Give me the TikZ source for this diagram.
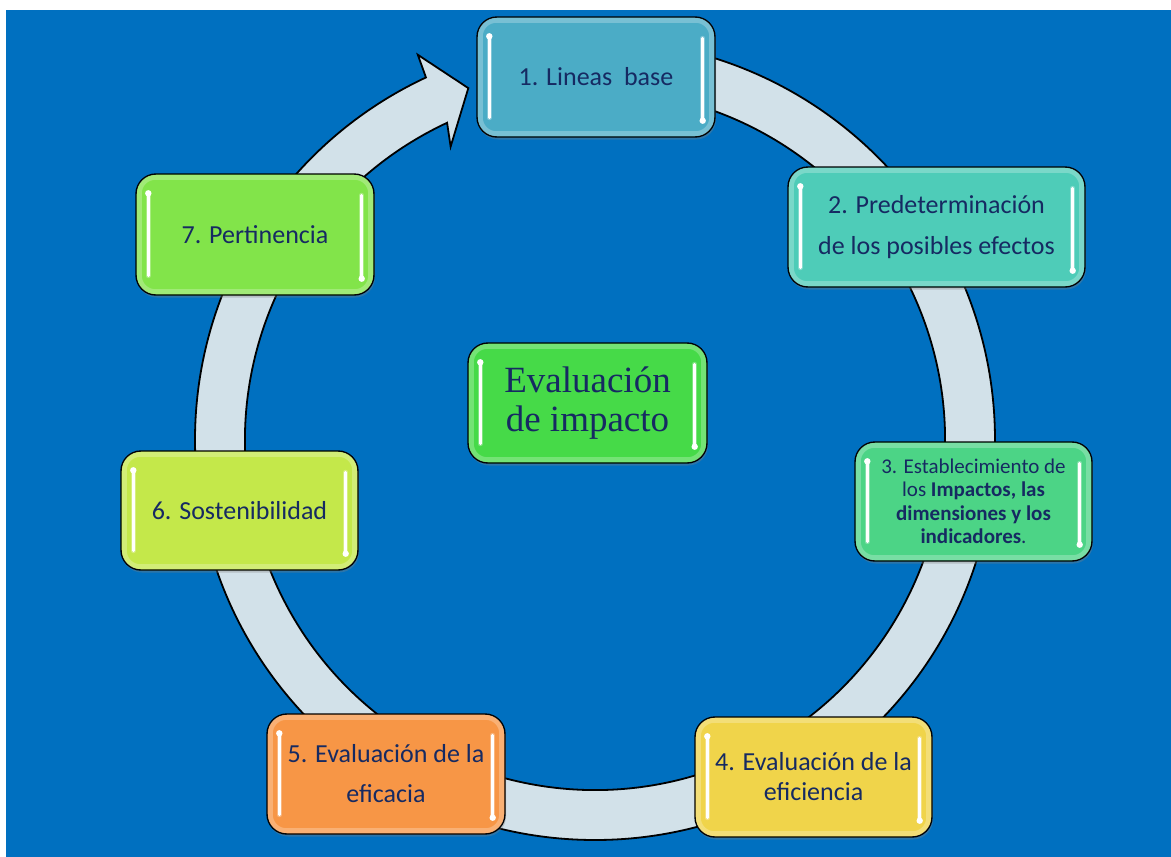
\documentclass[tikz,border=0pt]{standalone}
\usepackage{fontspec}
\setmainfont{Carlito}
\newfontfamily\titlefont{Liberation Serif}
\usetikzlibrary{shadows}
\definecolor{bg}{RGB}{0,112,192}
\definecolor{ringc}{RGB}{210,225,233}
\definecolor{navy}{RGB}{22,42,98}
\definecolor{c1}{RGB}{75,172,198}
\definecolor{c2}{RGB}{78,204,184}
\definecolor{c3}{RGB}{76,212,134}
\definecolor{cc}{RGB}{70,218,72}
\definecolor{c7}{RGB}{130,228,74}
\definecolor{c6}{RGB}{196,232,74}
\definecolor{c4}{RGB}{240,212,74}
\definecolor{c5}{RGB}{247,150,70}
\tikzset{
 stage/.style={draw=black, line width=1.4pt, rounded corners=20pt, minimum height=120pt,
   minimum width=238pt, align=center, text=navy, font=\fontsize{26}{30}\selectfont,
   inner sep=0pt, drop shadow={shadow xshift=1pt, shadow yshift=-2.5pt, opacity=.35}},
 glowline/.style={white, line cap=round, opacity=.3, line width=5pt},
 shine/.style={white, line cap=round, line width=2.6pt},
 rim/.style={white, opacity=.25, line width=5pt, rounded corners=16pt},
 ringstyle/.style={fill=ringc, draw=black, line width=1.8pt, line join=miter},
}
\newcommand\gloss[1]{%
 \draw[rim] ([shift={(4,4)}]#1.north west) rectangle ([shift={(-4,-4)}]#1.south east);
 \draw[glowline] ([shift={(13,20)}]#1.north west) -- ([shift={(13,-20)}]#1.south west);
 \draw[shine] ([shift={(13,20)}]#1.north west) -- ([shift={(13,-20)}]#1.south west);
 \fill[white] ([shift={(13,20)}]#1.north west) circle (3.2);
 \draw[glowline] ([shift={(-13,22)}]#1.north east) -- ([shift={(-13,-17)}]#1.south east);
 \draw[shine] ([shift={(-13,22)}]#1.north east) -- ([shift={(-13,-17)}]#1.south east);
 \fill[white] ([shift={(-13,-17)}]#1.south east) circle (3.2);
}
\begin{document}
\begin{tikzpicture}[x=1pt, y=-1pt]
\useasboundingbox (0,0) rectangle (1171,857);
\fill[bg] (6,10) rectangle (1171,857);
% circular arrow
\begin{scope}[shift={(595,440)}]
\draw[ringstyle] (-90:400) arc[start angle=-90, end angle=245, radius=400]
  -- (245.3:424) -- (250.2:374) -- (243.8:327) -- (245:350)
  arc[start angle=245, end angle=-90, radius=350] -- cycle;
\end{scope}
% stages
\node[stage, fill=c1] (n1) at (596,77) {1. Lineas~ base};
\node[stage, fill=c2, minimum width=297pt, font=\fontsize{26}{41}\selectfont] (n2) at (936.5,227)
  {2. Predeterminación\\de los posibles efectos};
\node[stage, fill=c3, minimum width=237pt, minimum height=119pt, font=\fontsize{21}{23.5}\selectfont] (n3) at (973.5,501.5)
  {3. Establecimiento de\\los \textbf{Impactos, las}\\\textbf{dimensiones y los}\\\textbf{indicadores}.};
\node[stage, fill=c4, minimum width=237pt] (n4) at (813.5,777) {4. Evaluación de la\\eficiencia};
\node[stage, fill=c5, font=\fontsize{26}{40}\selectfont] (n5) at (386,774) {5. Evaluación de la\\eficacia};
\node[stage, fill=c6, minimum width=237pt, minimum height=119pt] (n6) at (239.5,510.5) {6. Sostenibilidad};
\node[stage, fill=c7, minimum height=121pt] (n7) at (255,234.5) {7. Pertinencia};
\node[stage, fill=cc, minimum width=239pt, font=\titlefont\fontsize{37}{39}\selectfont] (nc) at (587.5,403)
  {Evaluación\\de impacto};
\gloss{n1}\gloss{n2}\gloss{n3}\gloss{n4}\gloss{n5}\gloss{n6}\gloss{n7}\gloss{nc}
\end{tikzpicture}
\end{document}
